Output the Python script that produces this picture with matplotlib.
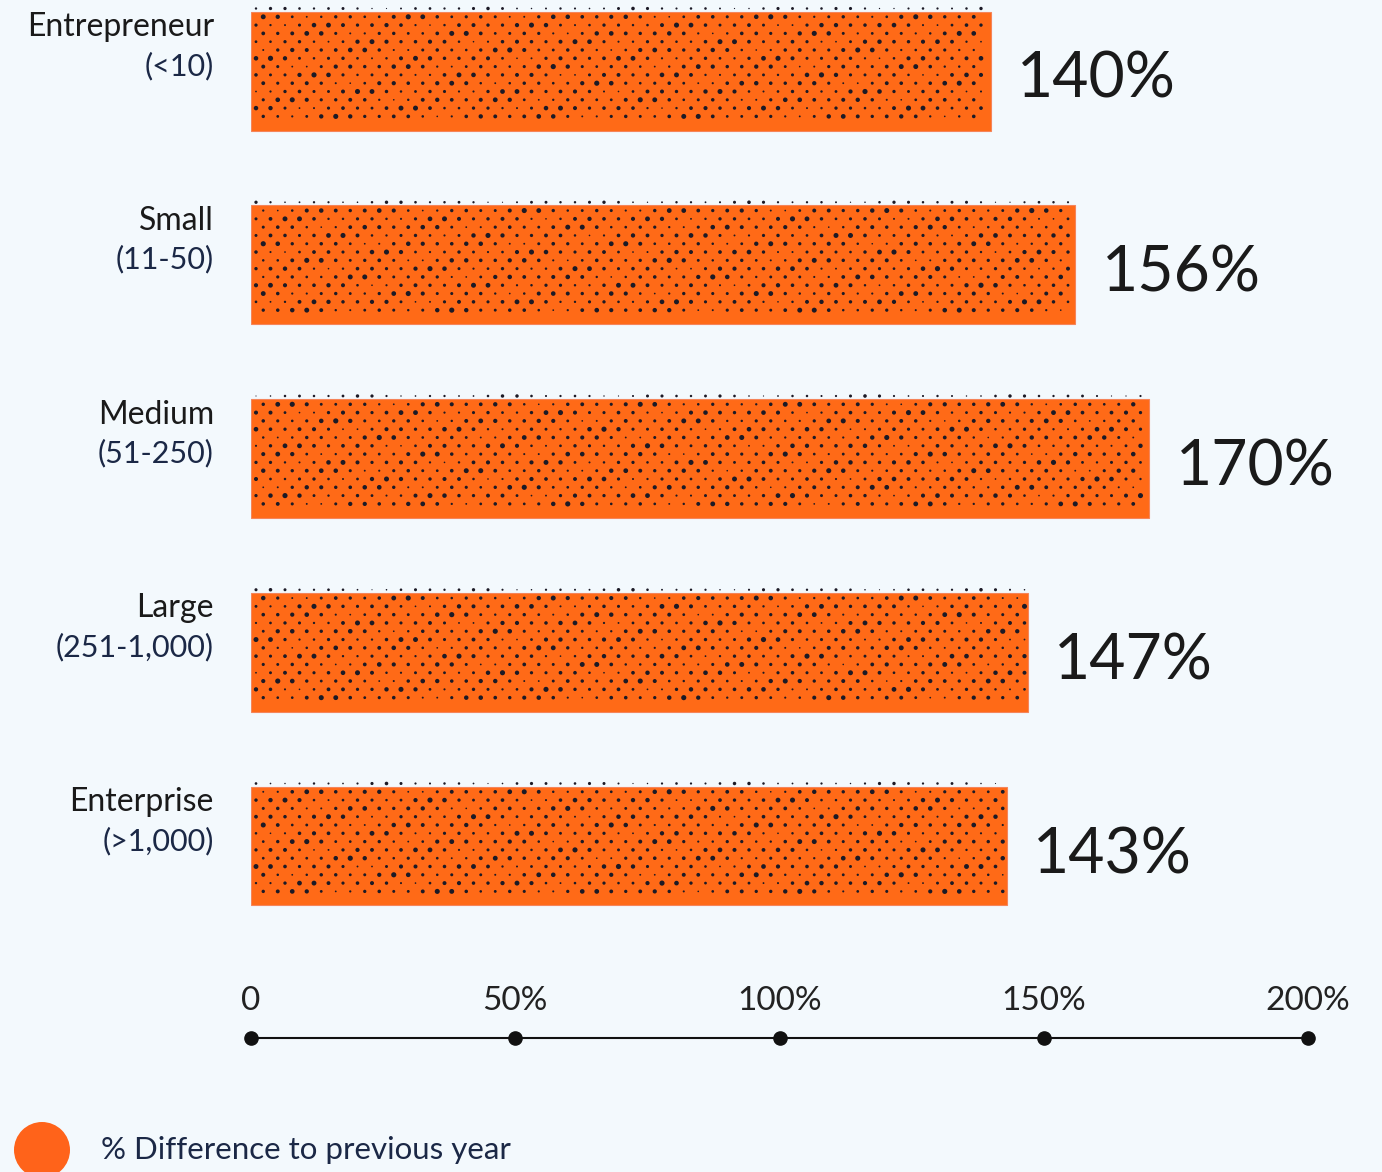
import numpy as np
import matplotlib.pyplot as plt
from matplotlib.patches import Ellipse

plt.rcParams['font.family'] = ['Lato', 'DejaVu Sans']

# company size segments and year-over-year growth
segments = ["Entrepreneur", "Small", "Medium", "Large", "Enterprise"]
headcounts = ["(<10)", "(11-50)", "(51-250)", "(251-1,000)", "(>1,000)"]
growth_pct = [140, 156, 170, 147, 143]
tick_values = [0, 50, 100, 150, 200]
tick_labels = ["0", "50%", "100%", "150%", "200%"]
legend_label = "% Difference to previous year"

BG = "#f3f9fd"
ORANGE = "#ff6a17"
DOT = "#1c1a26"
NAVY = "#1b2846"
INK = "#1a1a1a"

W, H, DPI = 1382, 1172, 100
fig = plt.figure(figsize=(W / DPI, H / DPI), dpi=DPI, facecolor=BG)

# axes runs from the top of the figure down to the scale line
ax_left, ax_right = 251, 1308
ax_top, ax_bottom = 0, 1038
row_px = 193.75
first_center = 71
ax = fig.add_axes([ax_left / W, (H - ax_bottom) / H,
                   (ax_right - ax_left) / W, (ax_bottom - ax_top) / H])
ax.set_facecolor(BG)
ax.set_xlim(0, 200)
ax.set_ylim((ax_bottom - first_center) / row_px, (ax_top - first_center) / row_px)

bar_h = 119 / row_px
ypos = np.arange(len(segments))
ax.barh(ypos, growth_pct, height=bar_h, color=ORANGE,
        edgecolor="#f5855a", linewidth=0.8, zorder=2)

# halftone-style dot texture laid over each bar
px_x = 200 / (ax_right - ax_left)
px_y = 1 / row_px
col_step, row_step = 14.5, 8.3
for i, (y, v) in enumerate(zip(ypos, growth_pct)):
    top = y - bar_h / 2
    bottom = y + bar_h / 2
    n_rows = int((119 + 3) / row_step)
    xs, ys, ss = [], [], []
    for r in range(n_rows):
        yy = top - 3 * px_y + r * row_step * px_y
        if yy > bottom - 3 * px_y:
            break
        shift = (col_step / 2) if r % 2 else 0
        c = 0
        while True:
            xx = (5 + shift + c * col_step) * px_x
            if xx > v - 3 * px_x:
                break
            k = 0.5 + 0.5 * np.sin(0.9 * c + 1.7 * r + 2.3 * i) * np.cos(0.37 * c - 0.6 * r)
            rad = 0.8 + 1.8 * k
            if r == 0:
                rad *= 0.7
            xs.append(xx)
            ys.append(yy)
            ss.append((1.44 * rad) ** 2)
            c += 1
    ax.scatter(xs, ys, s=ss, color=DOT, linewidths=0, zorder=3, clip_on=False)

# value labels to the right of each bar
for y, v in zip(ypos, growth_pct):
    ax.annotate(f"{v}%", xy=(v, y), xytext=(26, -27), textcoords="offset pixels",
                ha="left", va="baseline", fontsize=45, color=INK)

# category labels on the left
for y, name, sub in zip(ypos, segments, headcounts):
    ax.annotate(name, xy=(0, y), xytext=(-37, 35), textcoords="offset pixels",
                ha="right", va="baseline", fontsize=23, color=INK, annotation_clip=False)
    ax.annotate(sub, xy=(0, y), xytext=(-37, -4), textcoords="offset pixels",
                ha="right", va="baseline", fontsize=22, color=NAVY, annotation_clip=False)

# scale line with dots at each tick
for s in ["top", "right", "left"]:
    ax.spines[s].set_visible(False)
ax.spines["bottom"].set_linewidth(1.5)
ax.spines["bottom"].set_color("#111111")
ax.set_xticks([])
ax.set_yticks([])
trans = ax.get_xaxis_transform()
ax.plot(tick_values, [0] * len(tick_values), "o", color="#111111", markersize=9.5,
        transform=trans, clip_on=False, zorder=4)
for tv, tl in zip(tick_values, tick_labels):
    ax.annotate(tl, xy=(tv, 0), xycoords=trans, xytext=(0, 28), textcoords="offset pixels",
                ha="center", va="baseline", fontsize=24, color="#222222")

# legend marker and caption
fig.add_artist(Ellipse((42 / W, 22 / H), 56 / W, 56 / H, transform=fig.transFigure,
                       facecolor="#ff631a", edgecolor="none"))
fig.text(101 / W, 13 / H, legend_label, fontsize=22.5, color=NAVY, ha="left", va="baseline")

fig.savefig("out.png", dpi=DPI, facecolor=BG)
